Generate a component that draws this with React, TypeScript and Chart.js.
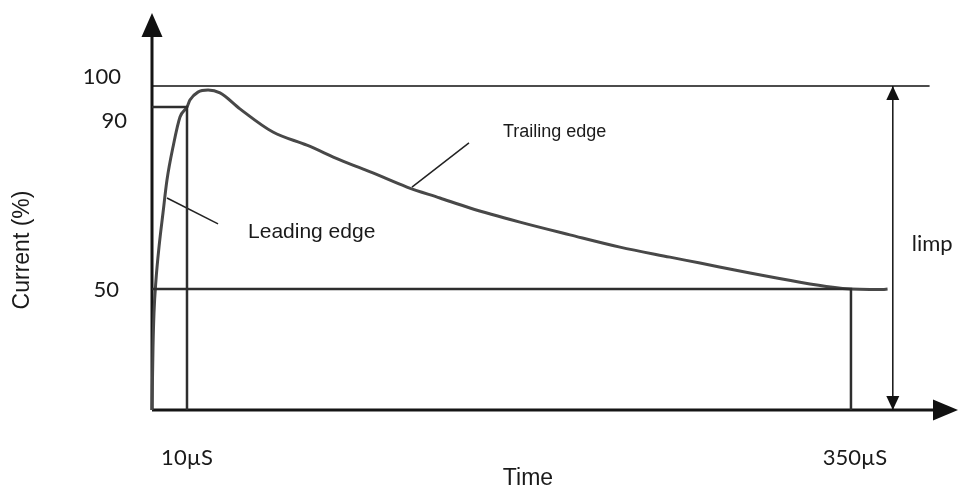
import React, { useEffect, useRef } from 'react';
import { Chart, registerables, LinearScale } from 'chart.js';

// ---- data (time in µs, current in %) ----
const curveTime = [0, 0.29, 0.57, 1.14, 2.0, 3.14, 4.29, 6.0, 8.0, 10, 11.5, 15.6, 20.8, 26.9, 37.1, 54.0, 71.4, 88.3, 105.2, 122.6, 139.5, 154.9, 180.5, 206.1, 231.7, 257.3, 272.7, 298.3, 323.9, 340.7, 350, 359.7, 366.3, 368.8];
const curveCurrent = [0, 26, 40.1, 52.0, 59.2, 66.7, 74.0, 81.2, 87.8, 90, 93.3, 97.1, 98.1, 96.7, 89.6, 84.5, 81.6, 78.4, 75.5, 72.4, 70.0, 67.8, 64.7, 61.9, 59.2, 57.0, 55.7, 53.5, 51.5, 50.4, 50, 49.8, 49.8, 50];

const levelValues = [100, 90, 50];
const levelLabels = ['100', '90', '50'];
const timeMarks = [10, 350];
const timeLabels = ['10µS', '350µS'];

const peakLevel = 100;
const riseLevel = 90;
const halfLevel = 50;
const riseTime = 10;
const halfTime = 350;
const peakLineEnd = 390.4;
const limpTime = 371.5;
const limpLabelLevel = 60;

const leadingPointer = [{ x: 4.29, y: 70.0 }, { x: 25.9, y: 64.3 }];
const trailingPointer = [{ x: 125.2, y: 72.4 }, { x: 154.4, y: 82.1 }];

const X_MAX = 405;
const Y_MAX = 125;

// schematic (non-proportional) axes: value -> fraction of axis length
const X_KNOTS: number[][] = [[0, 0], [10, 0.04342], [350, 0.8672], [405, 1]];
const Y_KNOTS: number[][] = [[0, 0], [50, 0.3048], [90, 0.7632], [100, 0.8161], [125, 1]];

function toDec(knots: number[][], v: number) {
  const n = knots.length;
  let i = 1;
  while (i < n - 1 && v > knots[i][0]) i++;
  const [v0, d0] = knots[i - 1];
  const [v1, d1] = knots[i];
  return d0 + ((v - v0) / (v1 - v0)) * (d1 - d0);
}
function fromDec(knots: number[][], d: number) {
  const n = knots.length;
  let i = 1;
  while (i < n - 1 && d > knots[i][1]) i++;
  const [v0, d0] = knots[i - 1];
  const [v1, d1] = knots[i];
  return v0 + ((d - d0) / (d1 - d0)) * (v1 - v0);
}

class PiecewiseScale extends LinearScale {
  static id = 'piecewise';
  static defaults = LinearScale.defaults;
  getPixelForValue(value: any) {
    if (value === null || value === undefined || isNaN(+value)) return NaN;
    const knots = (this as any).axis === 'x' ? X_KNOTS : Y_KNOTS;
    return (this as any).getPixelForDecimal(toDec(knots, +value));
  }
  getValueForPixel(pixel: number) {
    const knots = (this as any).axis === 'x' ? X_KNOTS : Y_KNOTS;
    return fromDec(knots, (this as any).getDecimalForPixel(pixel));
  }
}

Chart.register(...registerables, PiecewiseScale as any);

const SANS = '"Liberation Sans", Arial, sans-serif';
const CAL = 'Lato, "Open Sans", sans-serif';

function tri(ctx: CanvasRenderingContext2D, tx: number, ty: number, dir: string, len: number, half: number) {
  ctx.beginPath();
  ctx.moveTo(tx, ty);
  if (dir === 'up') { ctx.lineTo(tx - half, ty + len); ctx.lineTo(tx + half, ty + len); }
  if (dir === 'down') { ctx.lineTo(tx - half, ty - len); ctx.lineTo(tx + half, ty - len); }
  if (dir === 'right') { ctx.lineTo(tx - len, ty - half); ctx.lineTo(tx - len, ty + half); }
  ctx.closePath();
  ctx.fill();
}

const overlay = {
  id: 'overlay',
  afterDatasetsDraw(chart: any) {
    const { ctx, scales } = chart;
    const xs = scales.x, ys = scales.y;
    const px = (v: number) => xs.getPixelForValue(v);
    const py = (v: number) => ys.getPixelForValue(v);
    ctx.save();
    // arrowheads
    ctx.fillStyle = '#111';
    tri(ctx, px(0), py(Y_MAX), 'up', 24, 10.5);
    tri(ctx, px(X_MAX), py(0), 'right', 25, 10.5);
    tri(ctx, px(limpTime), py(peakLevel), 'up', 14, 6.5);
    tri(ctx, px(limpTime), py(0), 'down', 14, 6.5);

    // level labels
    ctx.fillStyle = '#1a1a1a';
    ctx.font = `22px ${CAL}`;
    ctx.textBaseline = 'middle';
    ctx.textAlign = 'right';
    const levelOffsets = [-9, 14, 1];
    const levelShift = [-2, 4, -4];
    levelValues.forEach((v, i) => {
      ctx.fillText(levelLabels[i], px(0) - 29 + levelShift[i], py(v) + levelOffsets[i]);
    });
    // time labels
    ctx.textAlign = 'center';
    timeMarks.forEach((t, i) => {
      ctx.fillText(timeLabels[i], px(t) + (i === 0 ? 0 : 4), py(0) + 48);
    });
    // limp
    ctx.textAlign = 'left';
    ctx.fillText('limp', px(limpTime) + 19, py(limpLabelLevel));

    // pointer labels
    ctx.font = `21px ${SANS}`;
    ctx.fillText('Leading edge', px(leadingPointer[1].x) + 30, py(leadingPointer[1].y) + 8);
    ctx.font = `18px ${SANS}`;
    ctx.fillText('Trailing edge', px(trailingPointer[1].x) + 34, py(trailingPointer[1].y) - 11);

    // axis titles
    ctx.font = `23px ${SANS}`;
    ctx.textAlign = 'center';
    ctx.fillText('Time', 528, 479);
    ctx.save();
    ctx.translate(23, 250);
    ctx.rotate(-Math.PI / 2);
    ctx.fillText('Current (%)', 0, 0);
    ctx.restore();
    ctx.restore();
  },
};

export default function App() {
  const ref = useRef<HTMLCanvasElement>(null);
  useEffect(() => {
    const line = (data: any[], color: string, width: number, extra: any = {}) => ({
      data,
      borderColor: color,
      borderWidth: width,
      pointRadius: 0,
      showLine: true,
      fill: false,
      clip: false,
      tension: 0,
      ...extra,
    });
    const curve = curveTime.map((t, i) => ({ x: t, y: curveCurrent[i] }));
    const chart = new Chart(ref.current as HTMLCanvasElement, {
      type: 'scatter',
      data: {
        datasets: [
          line([{ x: 0, y: peakLevel }, { x: peakLineEnd, y: peakLevel }], '#111', 1.5),
          line([{ x: 0, y: riseLevel }, { x: riseTime, y: riseLevel }, { x: riseTime, y: 0 }], '#2e2e2e', 2.5),
          line([{ x: 0, y: halfLevel }, { x: halfTime, y: halfLevel }, { x: halfTime, y: 0 }], '#2e2e2e', 2.5),
          line([{ x: limpTime, y: 0 }, { x: limpTime, y: peakLevel }], '#111', 1.5),
          line(leadingPointer, '#222', 1.5),
          line(trailingPointer, '#222', 1.5),
          line(curve, '#484848', 3, { cubicInterpolationMode: 'monotone' }),
          line([{ x: 0, y: 0 }, { x: 0, y: Y_MAX - 5 }], '#151515', 3),
          line([{ x: 0, y: 0 }, { x: X_MAX - 5, y: 0 }], '#151515', 3),
        ],
      },
      options: {
        animation: false,
        responsive: false,
        devicePixelRatio: 1,
        layout: { padding: { left: 152, top: 13, right: 1, bottom: 83 } },
        plugins: { legend: { display: false }, tooltip: { enabled: false } },
        events: [],
        scales: {
          x: { type: 'piecewise' as any, min: 0, max: X_MAX, display: false },
          y: { type: 'piecewise' as any, min: 0, max: Y_MAX, display: false },
        },
      },
      plugins: [overlay],
    } as any);
    return () => chart.destroy();
  }, []);
  return (
    <div style={{ position: 'fixed', left: 0, top: 0, width: 959, height: 493, background: '#fff' }}>
      <canvas ref={ref} width={959} height={493} style={{ display: 'block', width: 959, height: 493 }} />
    </div>
  );
}
